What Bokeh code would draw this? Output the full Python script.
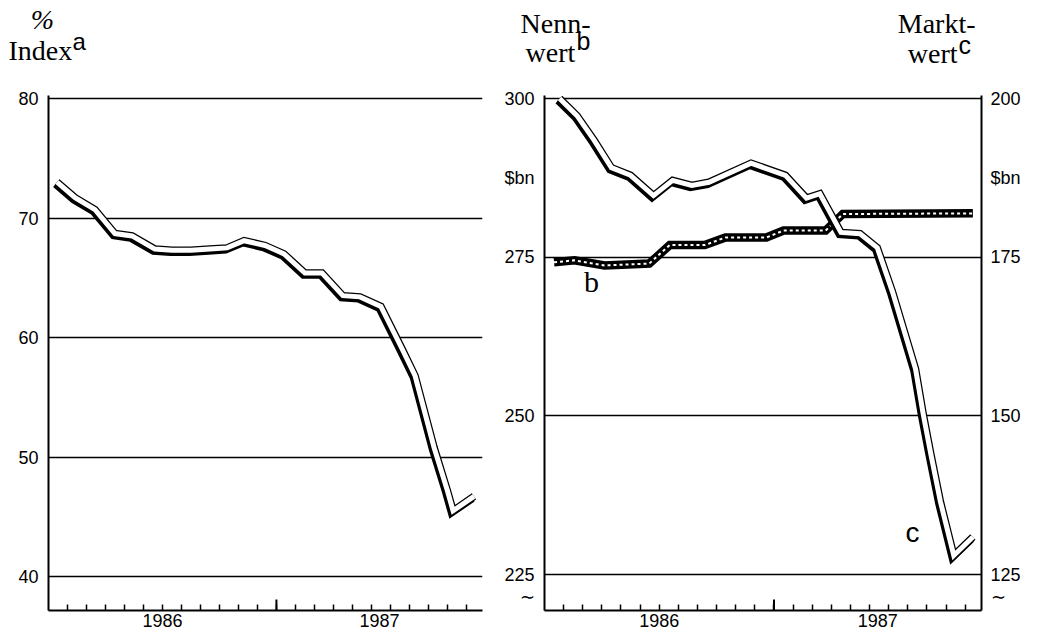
from bokeh.plotting import figure
from bokeh.layouts import row, column
from bokeh.models import Range1d, LinearAxis, FixedTicker, Label, ColumnDataSource
from bokeh.embed import file_html
from bokeh.resources import INLINE

# ---------------- data (x = months since 1 Jan 1986) ----------------
year_labels = ["1986", "1987"]
month_ticks = list(range(1, 23))
index_ticks = [40, 50, 60, 70, 80]
nenn_ticks = [225, 250, 275, 300]
markt_ticks = [125, 150, 175, 200]
unit_label = "$bn"
break_mark = "\u223c"

index_month = [0.45, 1.4, 2.45, 3.5, 4.4, 5.6, 6.5, 7.5, 8.5, 9.4, 10.3, 11.4,
               12.4, 13.5, 14.4, 15.5, 16.4, 17.5, 18.6, 19.3, 20.3, 21.0, 21.3, 22.4]
index_value = [73.0, 71.7, 70.7, 68.7, 68.5, 67.4, 67.3, 67.3, 67.4, 67.5, 68.1, 67.7,
               67.0, 65.4, 65.4, 63.5, 63.4, 62.6, 59.1, 56.8, 50.8, 47.2, 45.5, 46.7]

nenn_month = [0.5, 1.57, 3.14, 5.48, 6.55, 8.38, 9.46, 11.6, 12.5, 14.7, 15.6, 22.4]
nenn_value = [274.2, 274.5, 273.7, 274.0, 276.9, 276.9, 278.1, 278.1, 279.2, 279.2, 281.8, 281.9]

markt_month = [0.79, 1.7, 2.6, 3.5, 4.5, 5.7, 6.7, 7.7, 8.6, 10.8, 12.6, 13.7, 14.4,
               15.5, 16.5, 17.4, 18.2, 19.4, 19.8, 20.2, 20.7, 21.4, 22.4]
markt_value = [200.0, 197.3, 193.4, 189.1, 187.9, 184.7, 187.1, 186.3, 186.8, 189.8, 187.9,
               184.3, 185.0, 178.9, 178.7, 176.5, 169.5, 157.4, 150.3, 144.0, 136.5, 128.0, 130.9]

X_END = 22.85

# ---------------- geometry (page pixels) ----------------
TOTAL_W, TOTAL_H = 1037, 634
HEAD_H = 70
MAIN_H = TOTAL_H - HEAD_H
L_W = 495
R_W = TOTAL_W - L_W
L_X0, R_X0 = 0, L_W
FT, FB = 95, 610
L_FL, L_FR = 48, 482
R_FL, R_FR = 544, 981
BASE_SHIFT = 0.35  # em: label anchor correction

SERIF = "Liberation Serif"
SANS = "Liberation Sans"

# y scales: keep the reference spacing of the grid
l_ppu = (576 - 98) / (index_ticks[-1] - index_ticks[0])
L_Y1 = index_ticks[-1] + (98 - FT) / l_ppu
L_Y0 = index_ticks[0] - (FB - 576) / l_ppu
r_ppu = (574 - 98) / (nenn_ticks[-1] - nenn_ticks[0])
R_Y1 = nenn_ticks[-1] + (98 - FT) / r_ppu
R_Y0 = nenn_ticks[0] - (FB - 574) / r_ppu
M_Y1 = markt_ticks[-1] + (98 - FT) / r_ppu
M_Y0 = markt_ticks[0] - (FB - 574) / r_ppu


def conv(fl, fr, y0, y1):
    fx = lambda px: (px - fl) * X_END / (fr - fl)
    fy = lambda py: y1 - (py - FT) * (y1 - y0) / (FB - FT)
    return fx, fy


def make_fig(width, x0, fl, fr, y0, y1):
    p = figure(width=width, height=MAIN_H, x_range=Range1d(0, X_END), y_range=Range1d(y0, y1),
               output_backend="svg", toolbar_location=None, title=None,
               min_border_left=fl - x0, min_border_right=x0 + width - fr,
               min_border_top=FT - HEAD_H, min_border_bottom=TOTAL_H - FB)
    p.outline_line_color = None
    p.background_fill_color = "white"
    p.border_fill_color = "white"
    p.xgrid.visible = False
    yr = [6, (12 + X_END) / 2]
    xa = p.xaxis[0]
    xa.ticker = FixedTicker(ticks=yr, minor_ticks=month_ticks)
    xa.major_label_overrides = {yr[0]: year_labels[0], yr[1]: year_labels[1]}
    xa.major_tick_in = 0
    xa.major_tick_out = 0
    xa.minor_tick_in = 6
    xa.minor_tick_out = 0
    xa.minor_tick_line_width = 1.5
    xa.minor_tick_line_color = "black"
    xa.axis_line_width = 2
    xa.axis_line_color = "black"
    xa.major_label_standoff = 3
    xa.major_label_text_font = SANS
    xa.major_label_text_font_size = "18px"
    xa.major_label_text_color = "black"
    return p


def style_y(ax, ticks, overrides, standoff):
    ax.ticker = FixedTicker(ticks=ticks)
    ax.major_label_overrides = overrides
    ax.major_tick_in = 0
    ax.major_tick_out = 0
    ax.minor_tick_in = 0
    ax.minor_tick_out = 0
    ax.axis_line_width = 2
    ax.axis_line_color = "black"
    ax.major_label_standoff = standoff
    ax.major_label_text_font = SANS
    ax.major_label_text_font_size = "18px"
    ax.major_label_text_color = "black"


def ribbon(p, xs, ys, ppx, ppy, rn="default", kind="white"):
    dx = -1.5 / ppx
    dy = -2.0 / ppy
    src = ColumnDataSource(dict(x=xs, y=ys, xs=[v + dx for v in xs], ys=[v + dy for v in ys]))
    if kind == "white":
        p.line("xs", "ys", source=src, line_color="black", line_width=7.5,
               line_join="miter", y_range_name=rn)
        p.line("x", "y", source=src, line_color="black", line_width=7.5,
               line_join="miter", y_range_name=rn)
        p.line("x", "y", source=src, line_color="white", line_width=5,
               line_join="miter", y_range_name=rn)
    else:
        p.line("x", "y", source=src, line_color="black", line_width=8.5,
               line_join="miter", y_range_name=rn)
        p.line("x", "y", source=src, line_color="white", line_width=2,
               line_dash="3 3", line_join="miter", y_range_name=rn)


def add_text(p, px, py, text, font, size, fx, fy, align="left", rn="default", style="normal"):
    # px, py: wanted left/centre/right x and baseline y, in page pixels
    py_anchor = py - BASE_SHIFT * size
    p.add_layout(Label(x=fx(px), y=fy(py_anchor), text=text, text_font=font,
                       text_font_size=f"{size}px", text_align=align,
                       text_baseline="alphabetic", text_color="black",
                       text_font_style=style, y_range_name=rn))


def year_tick(p, y0, ppy):
    # long tick that separates the two years (the part inside the frame)
    p.segment(x0=[12], y0=[y0], x1=[12], y1=[y0 + 11 / ppy], line_color="black", line_width=2)


# ---------------- header strip (axis titles) ----------------
head = figure(width=TOTAL_W, height=HEAD_H, x_range=Range1d(0, TOTAL_W), y_range=Range1d(HEAD_H, 0),
              output_backend="svg", toolbar_location=None, min_border=0, title=None,
              x_axis_location=None, y_axis_location=None)
head.grid.visible = False
head.outline_line_color = None
head.background_fill_color = "white"
head.border_fill_color = "white"
ident = lambda v: v
add_text(head, 42, 29, "%", SERIF, 28, ident, ident, align="center", style="italic")
add_text(head, 8, 60, "Index", SERIF, 28, ident, ident)
add_text(head, 72, 49, "a", SANS, 24, ident, ident)
add_text(head, 520, 33, "Nenn-", SERIF, 28, ident, ident)
add_text(head, 525, 62, "wert", SERIF, 28, ident, ident)
add_text(head, 576, 49, "b", SANS, 25, ident, ident)
add_text(head, 975, 33, "Markt-", SERIF, 28, ident, ident, align="right")
add_text(head, 957, 63, "wert", SERIF, 28, ident, ident, align="right")
add_text(head, 958, 53, "c", SANS, 25, ident, ident)

# ---------------- left panel: index ----------------
pL = make_fig(L_W, L_X0, L_FL, L_FR, L_Y0, L_Y1)
style_y(pL.yaxis[0], index_ticks, {}, 10)
pL.ygrid[0].ticker = FixedTicker(ticks=index_ticks)
pL.ygrid[0].grid_line_color = "black"
pL.ygrid[0].grid_line_width = 1.6
l_ppx = (L_FR - L_FL) / X_END
ribbon(pL, index_month, index_value, l_ppx, l_ppu)
year_tick(pL, L_Y0, l_ppu)

# ---------------- right panel: debt ----------------
pR = make_fig(R_W, R_X0, R_FL, R_FR, R_Y0, R_Y1)
pR.extra_y_ranges = {"mkt": Range1d(M_Y0, M_Y1)}
n_mid = (nenn_ticks[-2] + nenn_ticks[-1]) / 2
m_mid = (markt_ticks[-2] + markt_ticks[-1]) / 2
n_brk = nenn_ticks[0] - 22 / r_ppu
m_brk = markt_ticks[0] - 22 / r_ppu
style_y(pR.yaxis[0], sorted(nenn_ticks + [n_mid, n_brk]),
        {n_mid: unit_label, n_brk: break_mark}, 10)
rax = LinearAxis(y_range_name="mkt")
style_y(rax, sorted(markt_ticks + [m_mid, m_brk]),
        {m_mid: unit_label, m_brk: break_mark}, 9)
pR.add_layout(rax, "right")
pR.ygrid[0].ticker = FixedTicker(ticks=nenn_ticks)
pR.ygrid[0].grid_line_color = "black"
pR.ygrid[0].grid_line_width = 1.6
rfx, rfy = conv(R_FL, R_FR, R_Y0, R_Y1)
_, mfy = conv(R_FL, R_FR, M_Y0, M_Y1)
r_ppx = (R_FR - R_FL) / X_END
ribbon(pR, nenn_month, nenn_value, r_ppx, r_ppu, kind="dash")
ribbon(pR, markt_month, markt_value, r_ppx, r_ppu, rn="mkt")
year_tick(pR, R_Y0, r_ppu)

add_text(pR, 591, 291, "b", SERIF, 30, rfx, rfy, align="center")
add_text(pR, 912, 542, "c", SANS, 28, rfx, mfy, align="center", rn="mkt")

layout = column(head, row(pL, pR))
open("out.html", "w").write(file_html(layout, INLINE))
